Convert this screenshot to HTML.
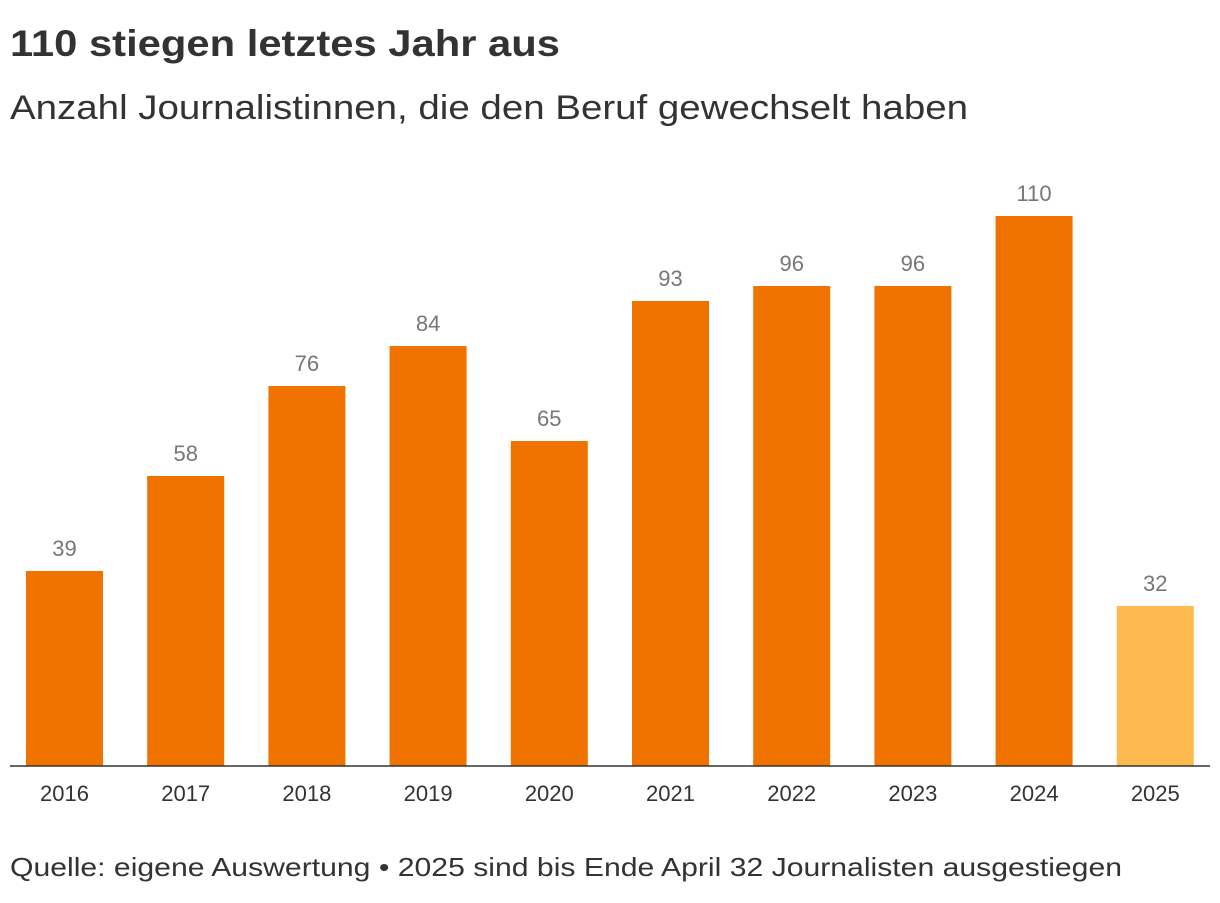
<!DOCTYPE html>
<html><head><meta charset="utf-8"><style>
body{margin:0;background:#fff;width:1220px;height:898px;overflow:hidden;font-family:"Liberation Sans",sans-serif;}
</style></head><body>
<svg width="1220" height="898" xmlns="http://www.w3.org/2000/svg">
<text x="10" y="56" font-size="37" font-weight="bold" fill="#333" textLength="550" lengthAdjust="spacingAndGlyphs">110 stiegen letztes Jahr aus</text>
<text x="10" y="119" font-size="34" fill="#333" textLength="958" lengthAdjust="spacingAndGlyphs">Anzahl Journalistinnen, die den Beruf gewechselt haben</text>
<g id="bars"></g>
<line x1="10" x2="1210" y1="766" y2="766" stroke="#333" stroke-width="1.5"/>
<text x="10" y="876" font-size="26" fill="#333" textLength="1112" lengthAdjust="spacingAndGlyphs">Quelle: eigene Auswertung • 2025 sind bis Ende April 32 Journalisten ausgestiegen</text>
</svg>
<script>
const categories=["2016","2017","2018","2019","2020","2021","2022","2023","2024","2025"];
const values=[39,58,76,84,65,93,96,96,110,32];
const partial=[false,false,false,false,false,false,false,false,false,true];
const base=766, scale=5, firstCenter=64.5, step=121.2, bw=77;
const x=i=>firstCenter+i*step;
const y=v=>base-v*scale;
const g=document.getElementById('bars');
const NS="http://www.w3.org/2000/svg";
categories.forEach((c,i)=>{
  const r=document.createElementNS(NS,'rect');
  r.setAttribute('x',x(i)-bw/2);r.setAttribute('y',y(values[i]));
  r.setAttribute('width',bw);r.setAttribute('height',base-y(values[i]));
  r.setAttribute('fill',partial[i]?'#ffba4f':'#f07300');
  
  
  g.appendChild(r);
  const t=document.createElementNS(NS,'text');
  t.setAttribute('x',x(i));t.setAttribute('y',y(values[i])-15);
  t.setAttribute('text-anchor','middle');t.setAttribute('font-size','22');t.setAttribute('fill','#777');
  t.textContent=values[i];
  
  
  g.appendChild(t);
  const l=document.createElementNS(NS,'text');
  l.setAttribute('x',x(i));l.setAttribute('y',801);
  l.setAttribute('text-anchor','middle');l.setAttribute('font-size','22');l.setAttribute('fill','#333');
  l.textContent=c;
  
  
  g.appendChild(l);
});
</script>
</body></html>
